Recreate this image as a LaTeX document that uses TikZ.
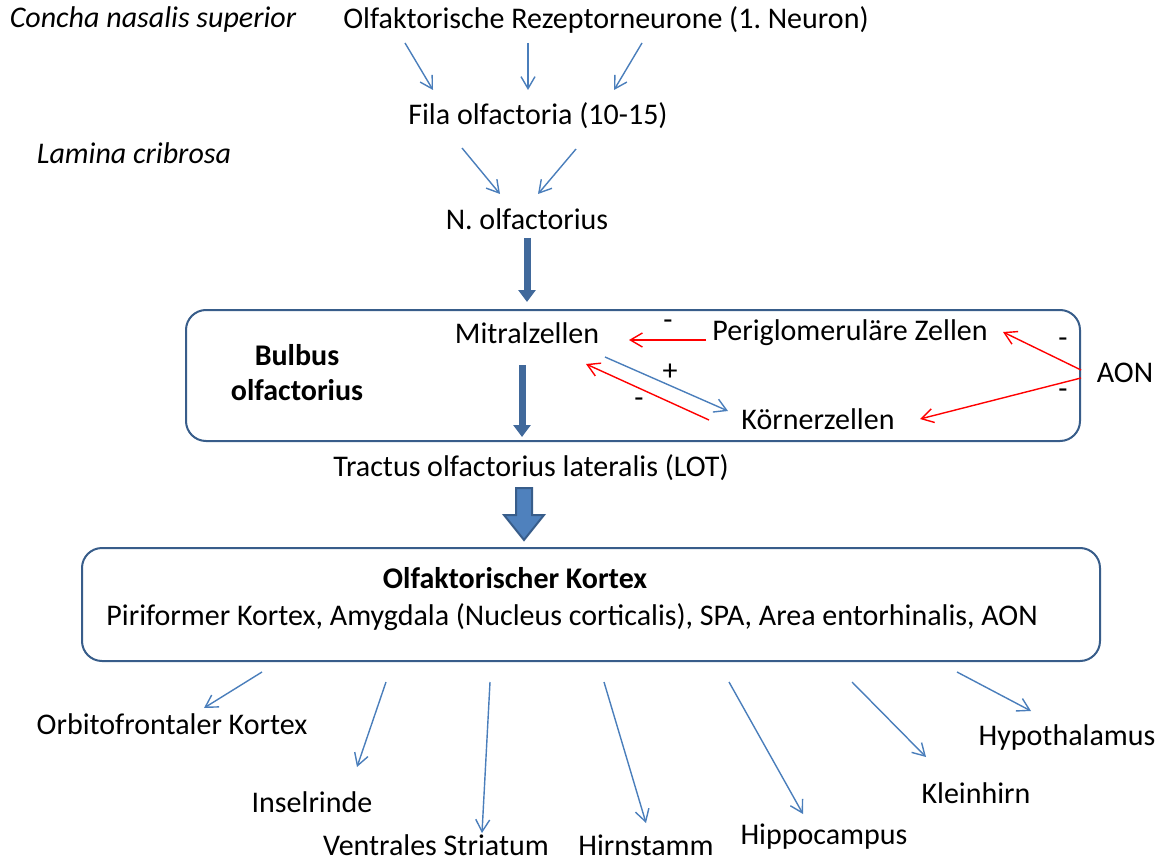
\documentclass[tikz,border=0pt]{standalone}
\usepackage{fontspec}
\setmainfont{Carlito}
\frenchspacing
\usetikzlibrary{arrows.meta}
\definecolor{lineblue}{HTML}{4A7EBB}
\definecolor{boxblue}{HTML}{385D8A}
\definecolor{tractblue}{HTML}{41699B}
\definecolor{fillblue}{HTML}{4F81BD}
\tikzset{
  lbl/.style={font=\fontsize{15}{17.5}\selectfont, inner sep=0pt, text=black},
  fibre/.style={lineblue, line width=0.7pt, -{Straight Barb[length=6pt,width=7pt]}},
  inhib/.style={red, line width=0.7pt, -{Straight Barb[length=6pt,width=7pt]}},
  tract/.style={tractblue, line width=3.5pt, -{Triangle[length=6pt,width=8.5pt]}},
  roundbox/.style={draw=boxblue, line width=1pt, rounded corners=10pt, inner sep=0pt},
  bigarrow/.style={draw=boxblue, fill=fillblue, line width=1pt}
}
\begin{document}
\begin{tikzpicture}[x=0.5pt,y=-0.5pt]
        \useasboundingbox (0,0) rectangle (1172,861);

        % Boxes
        \node[roundbox, minimum width=447pt, minimum height=65.5pt] (bulbus) at (633,375.5) {};
        \node[roundbox, minimum width=509pt, minimum height=56.5pt] (kortex) at (591,604.5) {};

        % Labels
        \node[lbl] (concha) at (153,20) {\itshape Concha nasalis superior};
        \node[lbl] (rezeptor) at (606,20) {Olfaktorische Rezeptorneurone (1. Neuron)};
        \node[lbl] (fila) at (538,116) {Fila olfactoria (10-15)};
        \node[lbl] (lamina) at (134,153) {\itshape Lamina cribrosa};
        \node[lbl] (nolf) at (527,219) {N. olfactorius};
        \node[lbl, align=center, font=\fontsize{15}{17.5}\selectfont\bfseries] (bulbtext) at (297,373) {Bulbus\\olfactorius};
        \node[lbl] (mitral) at (527,333) {Mitralzellen};
        \node[lbl] (perig) at (850,333) {Periglomeruläre Zellen};
        \node[lbl] (koerner) at (818,419) {Körnerzellen};
        \node[lbl] (aon) at (1125,373) {AON};
        \node[lbl] (lot) at (531,468) {Tractus olfactorius lateralis (LOT)};
        \node[lbl, font=\fontsize{15}{17.5}\selectfont\bfseries] (ktitle) at (515,578) {Olfaktorischer Kortex};
        \node[lbl] (kareas) at (572,617) {Piriformer Kortex, Amygdala (Nucleus corticalis), SPA, Area entorhinalis, AON};
        \node[lbl] (ofc) at (172,724) {Orbitofrontaler Kortex};
        \node[lbl] (insel) at (312,802) {Inselrinde};
        \node[lbl] (striatum) at (436,845) {Ventrales Striatum};
        \node[lbl] (hirnst) at (646,845) {Hirnstamm};
        \node[lbl] (hippo) at (824,837) {Hippocampus};
        \node[lbl] (klein) at (976,793) {Kleinhirn};
        \node[lbl] (hypo) at (1067,737) {Hypothalamus};

        % Coordinates
        \coordinate (r1) at (405,43);  \coordinate (f1) at (433,90);
        \coordinate (r2) at (528,43);  \coordinate (f2) at (528,90);
        \coordinate (r3) at (642,43);  \coordinate (f3) at (614,90);
        \coordinate (l1) at (462,148); \coordinate (n1) at (500,194);
        \coordinate (l2) at (576,149); \coordinate (n2) at (538,194);
        \coordinate (t1) at (527,238); \coordinate (t2) at (527,302);
        \coordinate (t3) at (522,365); \coordinate (t4) at (522,437);
        \coordinate (pg) at (706,340); \coordinate (mi) at (629,340);
        \coordinate (ms) at (605,357); \coordinate (kn) at (728,411);
        \coordinate (ks) at (709,420); \coordinate (mk) at (586,364);
        \coordinate (a1) at (1081,370); \coordinate (pe) at (1003,332);
        \coordinate (a2) at (1081,378); \coordinate (ke) at (920,419);
        \coordinate (k1) at (262,672); \coordinate (e1) at (204,708);
        \coordinate (k2) at (386,682); \coordinate (e2) at (357,767);
        \coordinate (k3) at (490,682); \coordinate (e3) at (482,833);
        \coordinate (k4) at (604,682); \coordinate (e4) at (646,823);
        \coordinate (k5) at (729,682); \coordinate (e5) at (803,814);
        \coordinate (k6) at (852,682); \coordinate (e6) at (926,757);
        \coordinate (k7) at (957,672); \coordinate (e7) at (1031,711);

        % Olfactory pathway
        \draw[fibre] (r1) -- (f1);
        \draw[fibre] (r2) -- (f2);
        \draw[fibre] (r3) -- (f3);
        \draw[fibre] (l1) -- (n1);
        \draw[fibre] (l2) -- (n2);
        \draw[tract] (t1) -- (t2);
        \draw[tract] (t3) -- (t4);

        % Bulbus circuit
        \draw[inhib] (pg) -- (mi);
        \node[lbl] at (668,325) {-};
        \draw[fibre] (ms) -- (kn);
        \node[lbl] at (670,372) {+};
        \draw[inhib] (ks) -- (mk);
        \node[lbl] at (639,403) {-};
        \draw[inhib] (a1) -- (pe);
        \draw[inhib] (a2) -- (ke);
        \node[lbl] at (1063,343) {-};
        \node[lbl] at (1063,394) {-};

        % Block arrow to cortex
        \draw[bigarrow] (516,488) -- (532,488) -- (532,515) -- (544,515) -- (524,540) -- (504,515) -- (516,515) -- cycle;

        % Projections
        \foreach \i in {1,...,7}
          \draw[fibre] (k\i) -- (e\i);
\end{tikzpicture}
\end{document}
